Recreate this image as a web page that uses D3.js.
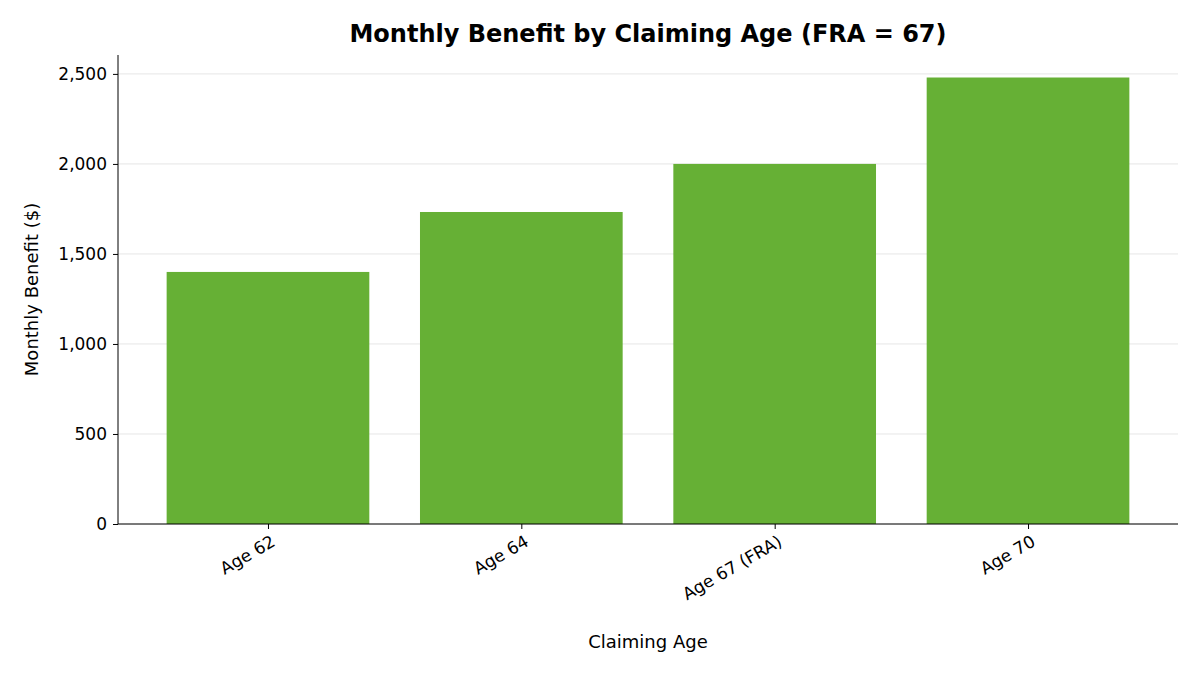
<!DOCTYPE html>
<html><head><meta charset="utf-8">
<script src="https://cdn.jsdelivr.net/npm/d3@7"></script>
<style>body{margin:0;background:#fff}text{font-family:"DejaVu Sans",sans-serif}</style>
</head><body><svg id="c" width="1200" height="675"></svg>
<script>
const categories = ["Age 62","Age 64","Age 67 (FRA)","Age 70"];
const benefits = [1400, 1733, 2000, 2480];
const yTicks = [0,500,1000,1500,2000,2500];

const svg = d3.select("#c");
const L=118,R=1178,T=55,B=524;
const x = d3.scaleLinear().domain([-0.592, categories.length-1+0.592]).range([L,R]);
const y = d3.scaleLinear().domain([0,2605]).range([B,T]);
const bw = x(0.4)-x(-0.4);

svg.append("g").selectAll("line").data(yTicks).join("line")
  .attr("x1",L).attr("x2",R).attr("y1",d=>y(d)).attr("y2",d=>y(d))
  .attr("stroke","#e6e6e6").attr("stroke-width",1);

svg.append("g").selectAll("rect").data(benefits).join("rect")
  .attr("x",(d,i)=>x(i)-bw/2).attr("width",bw)
  .attr("y",d=>y(d)).attr("height",d=>B-y(d)).attr("fill","#66b035");

const ya = svg.append("g").attr("transform",`translate(${L},0)`)
  .call(d3.axisLeft(y).tickValues(yTicks).tickSize(5).tickPadding(6));
ya.selectAll("text").attr("font-size",17).attr("fill","#000").style("font-family","DejaVu Sans");
ya.selectAll("line,path").attr("stroke","#000");
ya.select("path").attr("d",`M0,${B}V${T}`);

const xa = svg.append("g").attr("transform",`translate(0,${B})`)
  .call(d3.axisBottom(x).tickValues(d3.range(categories.length)).tickFormat(i=>categories[i]).tickSize(5));
xa.selectAll("line,path").attr("stroke","#000");
xa.select("path").attr("d",`M${L},0H${R}`);
xa.selectAll("text").attr("font-size",17).attr("fill","#000").style("font-family","DejaVu Sans")
  .attr("text-anchor","end").attr("dy",0).attr("transform","translate(4,14) rotate(-30)");

svg.append("text").attr("x",648).attr("y",42).attr("text-anchor","middle")
  .attr("font-size",24).attr("font-weight","bold").text("Monthly Benefit by Claiming Age (FRA = 67)");
svg.append("text").attr("x",648).attr("y",648).attr("text-anchor","middle")
  .attr("font-size",18).text("Claiming Age");
svg.append("text").attr("transform",`translate(38,${(T+B)/2+0}) rotate(-90)`).attr("text-anchor","middle")
  .attr("font-size",18).text("Monthly Benefit ($)");
</script></body></html>
